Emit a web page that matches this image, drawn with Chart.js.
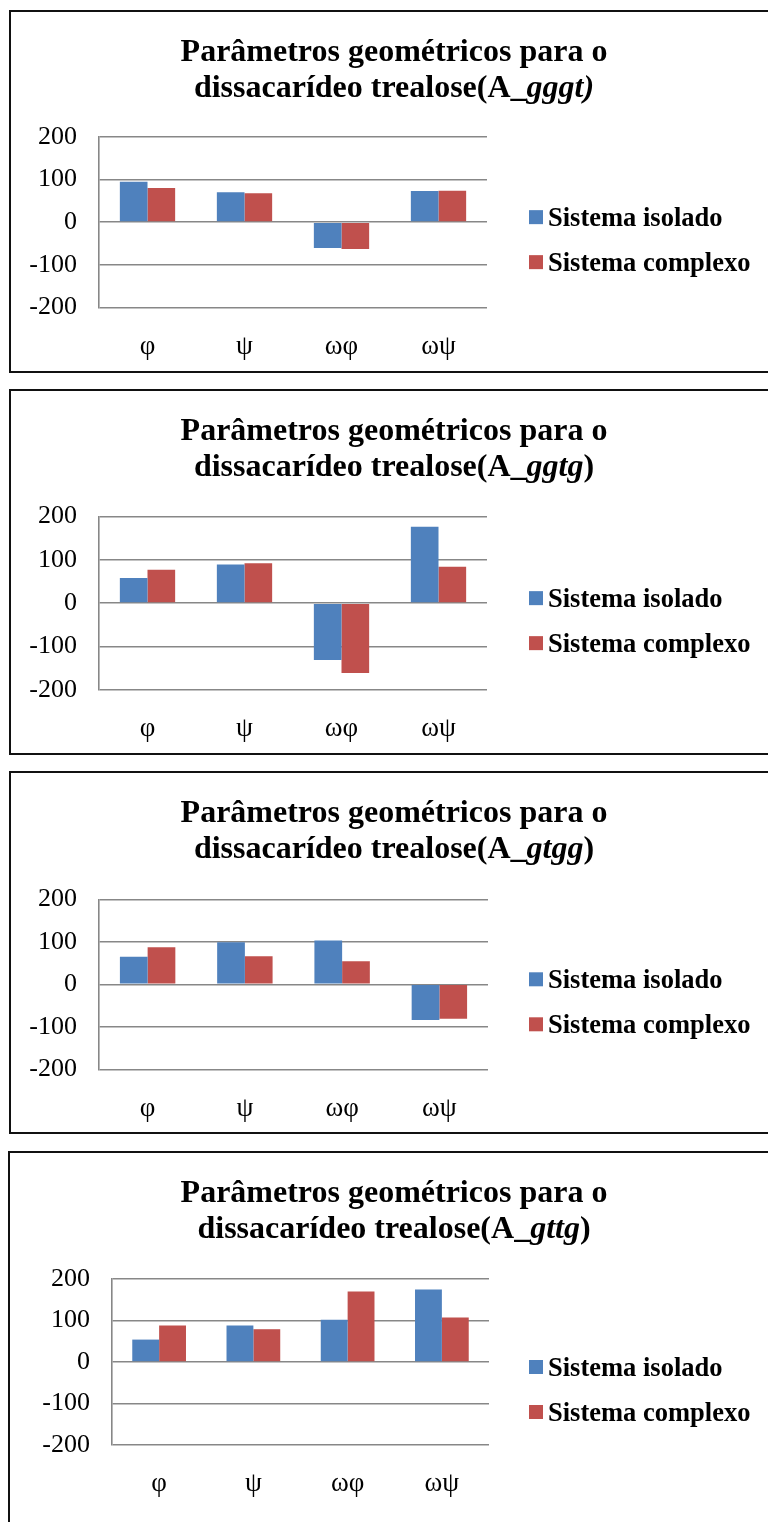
<!DOCTYPE html>
<html>
<head>
<meta charset="utf-8">
<script src="https://cdn.jsdelivr.net/npm/chart.js@4"></script>
<style>
  html, body { margin: 0; padding: 0; background: #fff; }
  body { width: 768px; height: 1522px; position: relative; overflow: hidden; }
  .frame { position: absolute; border: 2px solid #111; box-sizing: border-box; width: 830px; }
  canvas { position: absolute; left: 0; }
</style>
</head>
<body>
<script>
// Dihedral angles (degrees) of trehalose conformers, isolated vs. complexed
const categories = ['φ', 'ψ', 'ωφ', 'ωψ'];
const seriesNames = ['Sistema isolado', 'Sistema complexo'];
const yTickValues = [-200, -100, 0, 100, 200];

const gggtIsolado  = [95, 70, -61, 73];
const gggtComplexo = [80, 68, -63, 74];
const ggtgIsolado  = [58, 89, -131, 176];
const ggtgComplexo = [77, 92, -161, 84];
const gtggIsolado  = [65, 99, 103, -84];
const gtggComplexo = [87, 66, 54, -81];
const gttgIsolado  = [54, 88, 102, 175];
const gttgComplexo = [88, 79, 170, 107];

const titleLine1 = 'Parâmetros geométricos para o';
const titlePrefix = 'dissacarídeo trealose(A_';
const conformerItalic = ['gggt)', 'ggtg', 'gtgg', 'gttg'];
const conformerClose  = ['', ')', ')', ')'];

const SERIF = '"Times New Roman", "Liberation Serif", serif';
const BLUE = '#4F81BD';
const RED = '#C0504D';
const GRID = '#878787';

// Title (with italic conformer code) and legend drawn on the chart canvas
const panelText = {
  id: 'panelText',
  afterDraw(chart, args, opts) {
    const ctx = chart.ctx;
    ctx.save();
    ctx.fillStyle = '#000';
    ctx.textBaseline = 'alphabetic';
    ctx.textAlign = 'left';

    const bold = `bold 32px ${SERIF}`;
    const boldItalic = `italic bold 32px ${SERIF}`;
    ctx.font = bold;
    const w1 = ctx.measureText(titleLine1).width;
    ctx.fillText(titleLine1, opts.titleX - w1 / 2, opts.titleY1);

    const runs = opts.runs.map(r => ({ text: r.text, font: r.italic ? boldItalic : bold }));
    let total = 0;
    runs.forEach(r => { ctx.font = r.font; r.w = ctx.measureText(r.text).width; total += r.w; });
    let x = opts.titleX - total / 2;
    runs.forEach(r => { ctx.font = r.font; ctx.fillText(r.text, x, opts.titleY2); x += r.w; });

    const zeroY = chart.scales.y.getPixelForValue(0);
    ctx.font = `bold 26.5px ${SERIF}`;
    chart.data.datasets.forEach((ds, i) => {
      const cy = zeroY + opts.legendOffset + i * 45;
      ctx.fillStyle = ds.backgroundColor;
      ctx.fillRect(opts.legendX, cy - 7, 14, 14);
      ctx.fillStyle = '#000';
      ctx.fillText(ds.label, opts.legendX + 19, cy + 9);
    });
    ctx.restore();
  }
};

const panels = [
  { top: 10,   height: 363, frameLeft: 9, plot: { top: 127,   bottom: 297.3, left: 99,  right: 487 }, legendOffset: -5, isolado: gggtIsolado, complexo: gggtComplexo },
  { top: 389,  height: 366, frameLeft: 9, plot: { top: 127.3, bottom: 301,   left: 99,  right: 487 }, legendOffset: -5, isolado: ggtgIsolado, complexo: ggtgComplexo },
  { top: 771,  height: 363, frameLeft: 9, plot: { top: 128.3, bottom: 298.3, left: 99,  right: 488 }, legendOffset: -5, isolado: gtggIsolado, complexo: gtggComplexo },
  { top: 1151, height: 400, frameLeft: 8, plot: { top: 128,   bottom: 294,   left: 112, right: 489 }, legendOffset: 5,  isolado: gttgIsolado, complexo: gttgComplexo }
];

const X_AXIS_H = 60;

panels.forEach((p, idx) => {
  const frame = document.createElement('div');
  frame.className = 'frame';
  frame.style.left = p.frameLeft + 'px';
  frame.style.top = p.top + 'px';
  frame.style.height = p.height + 'px';
  document.body.appendChild(frame);

  const canvas = document.createElement('canvas');
  canvas.width = 768;
  canvas.height = p.height;
  canvas.style.top = p.top + 'px';
  canvas.style.width = '768px';
  canvas.style.height = p.height + 'px';
  document.body.appendChild(canvas);

  const runs = [
    { text: titlePrefix, italic: false },
    { text: conformerItalic[idx], italic: true },
    { text: conformerClose[idx], italic: false }
  ];

  new Chart(canvas, {
    type: 'bar',
    data: {
      labels: categories,
      datasets: [
        { label: seriesNames[0], data: p.isolado, backgroundColor: BLUE },
        { label: seriesNames[1], data: p.complexo, backgroundColor: RED }
      ]
    },
    options: {
      responsive: false,
      animation: false,
      events: [],
      categoryPercentage: 0.57,
      barPercentage: 1.0,
      layout: {
        padding: {
          left: 0,
          top: p.plot.top,
          right: 768 - p.plot.right,
          bottom: p.height - p.plot.bottom - X_AXIS_H
        }
      },
      scales: {
        x: {
          afterFit(s) { s.height = X_AXIS_H; },
          grid: { display: false },
          border: { display: false },
          ticks: { color: '#000', padding: 15, font: { family: SERIF, size: 27 } }
        },
        y: {
          min: -200,
          max: 200,
          afterFit(s) { s.width = p.plot.left; },
          afterBuildTicks(s) { s.ticks = yTickValues.map(v => ({ value: v })); },
          grid: { color: GRID, lineWidth: 1.6, drawTicks: false },
          border: { display: true, color: GRID, width: 1.6 },
          ticks: { color: '#000', padding: 22, font: { family: SERIF, size: 26 } }
        }
      },
      plugins: {
        legend: { display: false },
        tooltip: { enabled: false },
        panelText: {
          titleX: 394,
          titleY1: 51,
          titleY2: 87,
          runs: runs,
          legendX: 529,
          legendOffset: p.legendOffset
        }
      }
    },
    plugins: [panelText]
  });
});
</script>
</body>
</html>
